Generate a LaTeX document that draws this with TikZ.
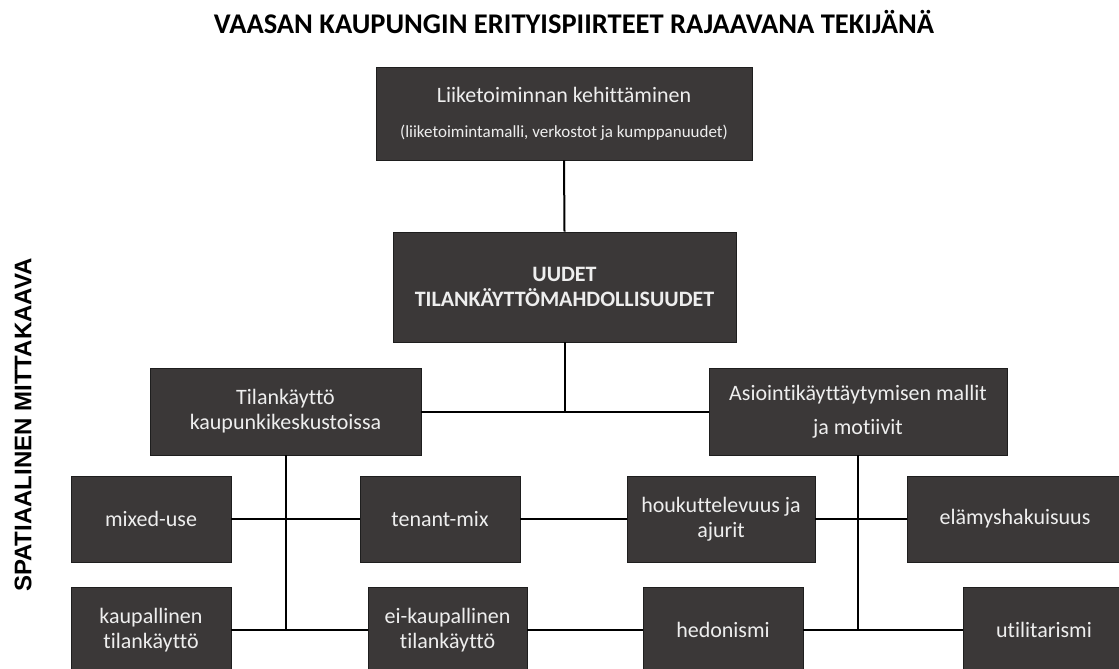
\documentclass[tikz,border=0pt]{standalone}
\usepackage{fontspec}
\setmainfont{Carlito}[Ligatures=NoCommon]
\newfontfamily\sidefont{Liberation Sans}
\definecolor{boxfill}{RGB}{59,56,56}
\definecolor{boxedge}{RGB}{30,30,30}
\definecolor{boxtext}{RGB}{238,238,238}
\tikzset{
  box/.style={draw=boxedge, line width=0.8pt, fill=boxfill, text=boxtext,
    inner sep=0pt, align=center, font=\fontsize{22}{25}\selectfont},
  link/.style={draw=black, line width=2pt},
}
\begin{document}
\begin{tikzpicture}[x=1pt,y=-1pt]
\useasboundingbox (0,0) rectangle (1119,669);
\clip (0,0) rectangle (1119,669);

% heading and side label
\node[anchor=base, font=\bfseries\fontsize{28.5}{28.5}\selectfont] (title) at (574,34)
  {VAASAN KAUPUNGIN ERITYISPIIRTEET RAJAAVANA TEKIJÄNÄ};
\node[rotate=90, font=\sidefont\bfseries\fontsize{24}{24}\selectfont] (side) at (23,425)
  {SPATIAALINEN MITTAKAAVA};

% top levels
\node[box, minimum width=376pt, minimum height=93pt] (b1) at (564,113.5)
  {Liiketoiminnan kehittäminen\\[10pt]{\fontsize{17}{20}\selectfont(liiketoimintamalli, verkostot ja kumppanuudet)}};
\node[box, minimum width=343pt, minimum height=110pt, font=\bfseries\fontsize{22}{25}\selectfont] (b2) at (564.5,287)
  {UUDET\\TILANKÄYTTÖMAHDOLLISUUDET};
\node[box, minimum width=271pt, minimum height=87pt] (b3) at (285.5,411.5)
  {Tilankäyttö\\kaupunkikeskustoissa};
\node[box, minimum width=298pt, minimum height=87pt] (b4) at (858,411.5)
  {Asiointikäyttäytymisen mallit\\[9pt]ja motiivit};

% first row
\node[box, minimum width=160pt, minimum height=86pt] (mix) at (151,519) {mixed-use};
\node[box, minimum width=160pt, minimum height=86pt] (ten) at (440,519) {tenant-mix};
\node[box, minimum width=188pt, minimum height=86pt] (hou) at (721,519) {houkuttelevuus ja\\ajurit};
\node[box, minimum width=216pt, minimum height=86pt] (ela) at (1015,519) {elämyshakuisuus};

% second row
\node[box, minimum width=160pt, minimum height=86pt] (kau) at (151,630) {kaupallinen\\tilankäyttö};
\node[box, minimum width=159pt, minimum height=86pt] (eik) at (447.5,630) {ei-kaupallinen\\tilankäyttö};
\node[box, minimum width=160pt, minimum height=86pt] (hed) at (723,630) {hedonismi};
\node[box, minimum width=162pt, minimum height=86pt] (uti) at (1044,630) {utilitarismi};

% connectors
\draw[link] (b1.south) -- (b2.north);
\draw[link] (b3.east) -- (b4.west);
\draw[link] (b2.south) -- (b2.south |- b3.east);
\draw[link] (b3.south) -- (b3.south |- kau.east);
\draw[link] (b4.south) -- (b4.south |- hed.east);
\draw[link] (mix.east) -- (ten.west);
\draw[link] (ten.east) -- (hou.west);
\draw[link] (hou.east) -- (ela.west);
\draw[link] (kau.east) -- (eik.west);
\draw[link] (eik.east) -- (hed.west);
\draw[link] (hed.east) -- (uti.west);
\end{tikzpicture}
\end{document}
